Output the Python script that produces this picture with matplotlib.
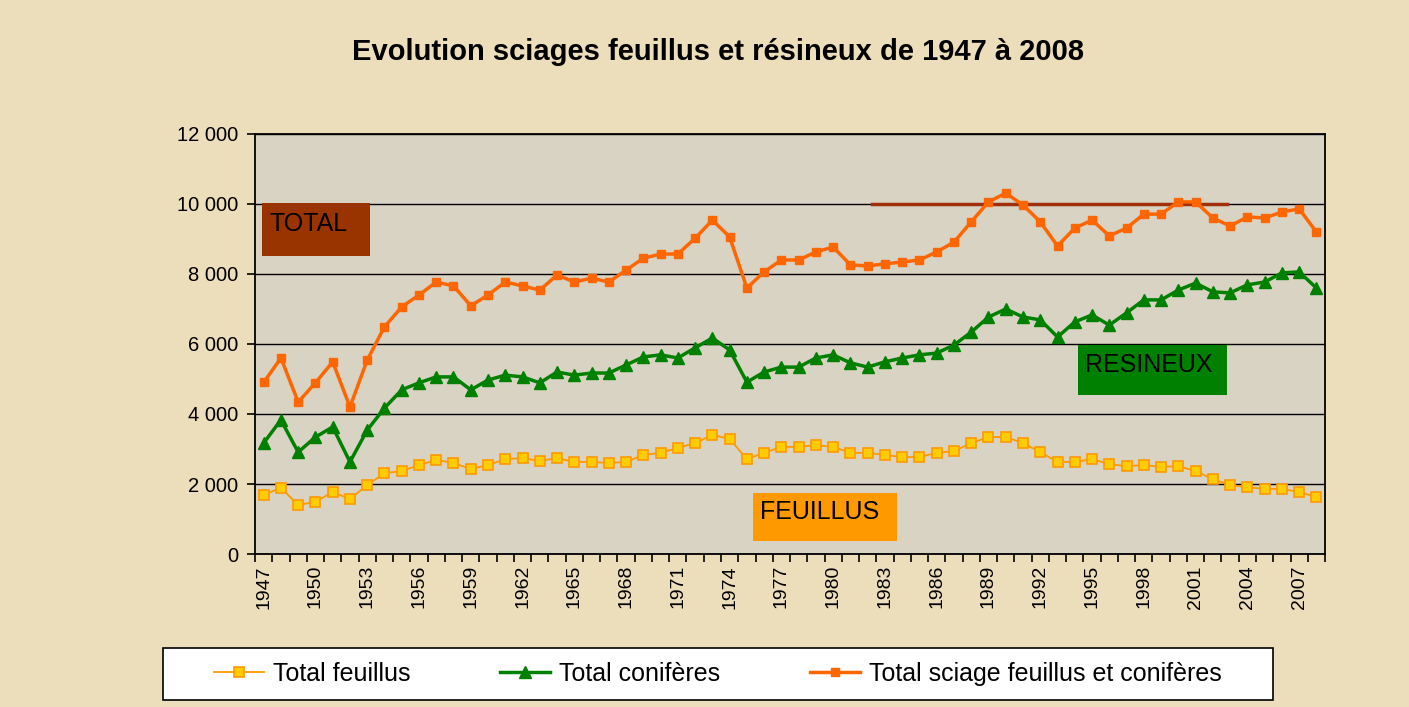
import matplotlib
matplotlib.use('Agg')
import matplotlib.pyplot as plt
from matplotlib.patches import Rectangle
import numpy as np

plt.rcParams['font.family'] = ['Liberation Sans', 'DejaVu Sans']

years = list(range(1947, 2009))

feuillus = [1690, 1890, 1400, 1490, 1770, 1570, 1970, 2310, 2370, 2540,
            2690, 2600, 2430, 2540, 2710, 2740, 2660, 2740, 2630, 2630,
            2600, 2630, 2830, 2890, 3030, 3170, 3400, 3290, 2710, 2890,
            3060, 3060, 3110, 3060, 2890, 2890, 2830, 2770, 2770, 2890,
            2940, 3170, 3340, 3340, 3170, 2910, 2630, 2630, 2710, 2570,
            2510, 2540, 2490, 2510, 2370, 2140, 1970, 1910, 1860, 1860,
            1770, 1630]

coniferes = [3170, 3830, 2910, 3340, 3630, 2630, 3540, 4170, 4690, 4890,
             5060, 5060, 4690, 4970, 5110, 5060, 4890, 5200, 5110, 5170,
             5170, 5400, 5630, 5690, 5600, 5890, 6170, 5830, 4910, 5200,
             5340, 5340, 5600, 5690, 5460, 5340, 5490, 5600, 5690, 5740,
             5970, 6340, 6770, 7000, 6770, 6690, 6200, 6630, 6830, 6540,
             6890, 7260, 7260, 7540, 7740, 7490, 7460, 7690, 7770, 8030,
             8060, 7600]

total = [4900, 5600, 4340, 4890, 5490, 4200, 5540, 6490, 7060, 7400,
         7770, 7660, 7090, 7400, 7770, 7660, 7540, 7970, 7770, 7880,
         7770, 8110, 8450, 8570, 8570, 9020, 9540, 9060, 7600, 8060,
         8400, 8400, 8630, 8770, 8260, 8230, 8290, 8340, 8400, 8630,
         8910, 9490, 10060, 10310, 9970, 9490, 8800, 9310, 9540, 9090,
         9310, 9710, 9710, 10060, 10060, 9600, 9370, 9630, 9600, 9770,
         9860, 9200]

yticks = [0, 2000, 4000, 6000, 8000, 10000, 12000]
ytick_labels = ['0', '2 000', '4 000', '6 000', '8 000', '10 000', '12 000']

fig = plt.figure(figsize=(14.09, 7.07), dpi=100, facecolor='#ECDDBB')
ax = fig.add_axes([0.181, 0.2164, 0.7594, 0.5941])
ax.set_facecolor('#D9D3C3')

x = np.arange(len(years))
ax.plot(x, feuillus, color='#FF9900', lw=1.3, marker='s', ms=7,
        mfc='#FFCC00', mec='#FF9900', mew=1.2, label='Total feuillus', zorder=4)
ax.plot(x, coniferes, color='#008000', lw=2.5, marker='^', ms=8,
        mfc='#008000', mec='#008000', label='Total conifères', zorder=4)
ax.plot(x, total, color='#FF6600', lw=2.5, marker='s', ms=6,
        mfc='#FF6600', mec='#FF6600', label='Total sciage feuillus et conifères', zorder=4)

ax.set_xlim(-0.5, len(years) - 0.5)
ax.set_ylim(0, 12000)
ax.set_yticks(yticks)
ax.set_yticklabels(ytick_labels, fontsize=14.5)
ax.grid(axis='y', color='black', lw=1)
ax.set_axisbelow(True)

ax.set_xticks(x[::3])
ax.set_xticklabels([str(y) for y in years[::3]], rotation=90, fontsize=14)
ax.set_xticks(np.arange(-0.5, len(years), 1), minor=True)
ax.tick_params(axis='x', which='major', length=0, pad=8)
ax.tick_params(axis='x', which='minor', length=6, width=1.2, direction='out')
ax.tick_params(axis='y', length=6, width=1.2, direction='out', pad=6)
for s in ax.spines.values():
    s.set_color('black')
    s.set_linewidth(1.3)

# brown reference line at 10 000
ax.axhline(10000, xmin=0.5766, xmax=0.9084, color='#A0300A', lw=2.5, zorder=3)

# labelled boxes
boxes = [('TOTAL', 0.0065, 0.7095, 0.101, 0.126, '#993300'),
         ('RESINEUX', 0.769, 0.3786, 0.139, 0.119, '#008000'),
         ('FEUILLUS', 0.4654, 0.031, 0.1346, 0.114, '#FF9900')]
for txt, bx, by, bw, bh, col in boxes:
    ax.add_patch(Rectangle((bx, by), bw, bh, transform=ax.transAxes,
                           facecolor=col, edgecolor='none', zorder=5))
    ax.text(bx + 0.007, by + bh * 0.6, txt, transform=ax.transAxes,
            fontsize=18, color='black', va='center', ha='left', zorder=6)

fig.text(0.5096, 0.927, 'Evolution sciages feuillus et résineux de 1947 à 2008',
         ha='center', va='center', fontsize=21, fontweight='bold')

# legend
fig.patches.append(Rectangle((0.1157, 0.0099), 0.7878, 0.0735,
                             transform=fig.transFigure, facecolor='white',
                             edgecolor='black', lw=1.2))
handles, labels = ax.get_legend_handles_labels()
fig.legend(handles, labels, loc='center', bbox_to_anchor=(0.5096, 0.0467),
           ncol=3, frameon=False, fontsize=18, columnspacing=3.6,
           handlelength=2.0, handletextpad=0.35)

fig.savefig('out.png', dpi=100, facecolor=fig.get_facecolor())
